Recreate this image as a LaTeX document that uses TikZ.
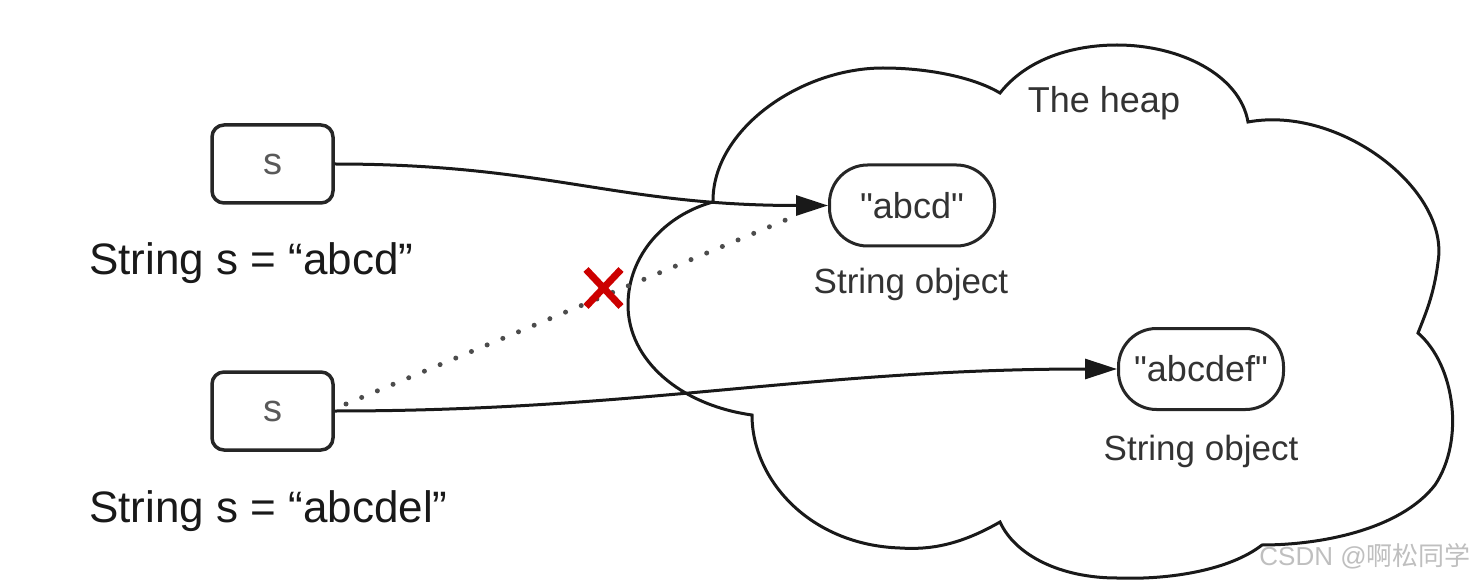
\documentclass[tikz,border=0pt]{standalone}
\usepackage{fontspec}
\setmainfont{Liberation Sans}[Ligatures=TeXOff]
\newfontfamily\cjkfont{Noto Sans CJK SC}
\usetikzlibrary{arrows.meta,shapes.misc}

\tikzset{every picture/.style={line width=0.75pt}}

\begin{document}
\begin{tikzpicture}[x=1pt,y=1pt,yscale=-1,xscale=1,
  refbox/.style={draw=black!85,line width=3.5pt,rounded corners=12pt,minimum width=121pt,minimum height=78pt,inner sep=0pt,text=black!65,font=\fontsize{38}{40}\selectfont},
  objpill/.style={draw=black!85,line width=3pt,rounded corners=38pt,minimum width=165pt,minimum height=81pt,inner sep=0pt,text=black!80,font=\fontsize{36}{40}\selectfont},
  codetext/.style={anchor=base west,inner sep=0pt,text=black!90,font=\fontsize{44}{50}\selectfont},
  objtext/.style={anchor=base,inner sep=0pt,text=black!80,font=\fontsize{35}{40}\selectfont},
  ptr/.style={line width=3pt,draw=black!90,-{Triangle[length=32pt,width=20pt]}},
  oldptr/.style={line width=5pt,draw=black!70,line cap=round,dash pattern=on 0pt off 17pt},
  crossmark/.style={cross out,draw=red!80!black,line width=7pt,minimum width=28pt,minimum height=30pt,inner sep=0pt},
  watermark/.style={anchor=base west,inner sep=0pt,text=black!25,font=\fontsize{26}{30}\selectfont}]
\useasboundingbox (0,0) rectangle (1483,585);

%Shape: Cloud (the heap)
\draw [line width=3pt,black!90] (713,202) .. controls (712,130) and (800,68) .. (883,68) .. controls (930,68) and (975,78) .. (1000,93)
  .. controls (1030,55) and (1080,45) .. (1117,45) .. controls (1180,45) and (1240,75) .. (1248,122)
  .. controls (1340,105) and (1450,190) .. (1438,262) .. controls (1434,295) and (1425,315) .. (1418,333)
  .. controls (1455,365) and (1465,440) .. (1435,485) .. controls (1400,530) and (1320,545) .. (1262,545)
  .. controls (1230,570) and (1170,580) .. (1117,578) .. controls (1060,578) and (1015,555) .. (1000,522)
  .. controls (960,545) and (930,550) .. (900,548) .. controls (810,545) and (752,480) .. (752,415)
  .. controls (680,405) and (628,360) .. (628,305) .. controls (628,255) and (665,215) .. (713,202) ;

% Reference boxes
\node [refbox] (s1) at (272.5,164) {s};
\node [refbox] (s2) at (272.5,411) {s};

% Code lines
\node [codetext] (decl1) at (89,275) {String s = “abcd”};
\node [codetext] (decl2) at (89,522) {String s = “abcdel”};

% String objects
\node [objpill] (abcd) at (912,205.5) {"abcd"};
\node [objpill] (abcdef) at (1201,369) {"abcdef"};
\node [objtext] (obj1) at (911,294) {String object};
\node [objtext] (obj2) at (1201,460) {String object};
\node [objtext,font=\fontsize{36}{40}\selectfont] (heap) at (1104,113) {The heap};

% Pointers
\draw [ptr] (s1.east) to[out=0,in=180,looseness=1.1] (abcd.west);
\draw [ptr] (s2.east) to[out=0,in=180] (abcdef.west);

% Old pointer (dotted)
\coordinate (dstart) at (346,404);
\coordinate (dend) at (800,214);
\draw [oldptr] (dstart) -- (dend);
\node [crossmark] (cut) at (603.5,288) {};

% Watermark
\node [watermark] (wm) at (1259,565) {CSDN @{\cjkfont 啊松同学}};
\end{tikzpicture}
\end{document}
